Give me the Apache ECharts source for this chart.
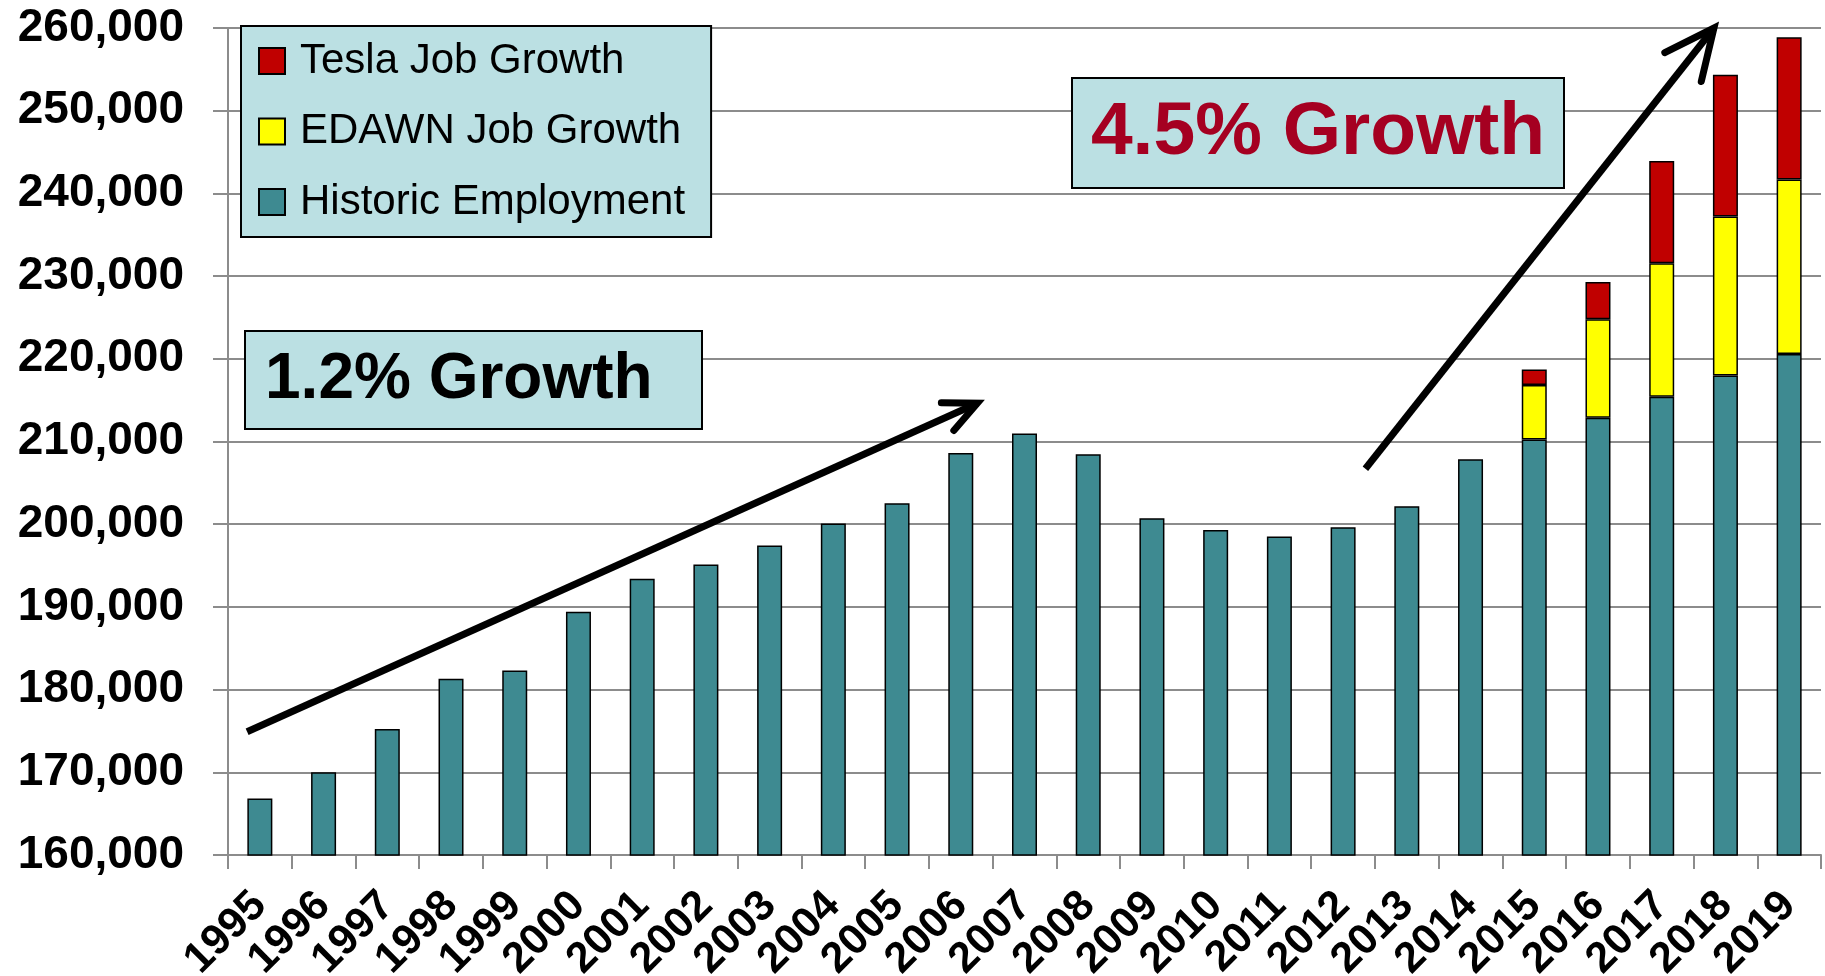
<!DOCTYPE html>
<html>
<head>
<meta charset="utf-8">
<title>Employment Growth</title>
<script src="https://cdn.jsdelivr.net/npm/echarts@6.0.0/dist/echarts.min.js"></script>
<style>
  html, body { margin: 0; padding: 0; background: #ffffff; }
  #main-chart { width: 1825px; height: 976px; }
</style>
</head>
<body>
<div id="main-chart"></div>
<script>
// data
var years = ['1995', '1996', '1997', '1998', '1999', '2000', '2001', '2002', '2003', '2004',
  '2005', '2006', '2007', '2008', '2009', '2010', '2011', '2012', '2013', '2014',
  '2015', '2016', '2017', '2018', '2019'];

var historic = [166820, 170000, 175250, 181300, 182300, 189400, 193390, 195120, 197420, 200080,
  202540, 208620, 210960, 208460, 200730, 199310, 198500, 199640, 202180, 207860,
  210250, 212880, 215420, 217990, 220580];

var edawn = [null, null, null, null, null, null, null, null, null, null,
  null, null, null, null, null, null, null, null, null, null,
  6570, 11890, 16120, 19230, 21110];

var tesla = [null, null, null, null, null, null, null, null, null, null,
  null, null, null, null, null, null, null, null, null, null,
  1890, 4520, 12380, 17130, 17180];

var yTicks = [160000, 260000, 10000]; // min, max, step

// annotation arrows in data space: [categoryIndex, value]
var arrowSlow = [[-0.2, 174900], [11.26, 214630]];
var arrowFast = [[17.35, 206700], [22.82, 260000]];

var FONT = "'Liberation Sans', Arial, Helvetica, sans-serif";

var myChart = echarts.init(document.getElementById('main-chart'));

var barBorder = { borderColor: '#000000', borderWidth: 1.5 };

var option = {
  backgroundColor: '#ffffff',
  animation: false,
  textStyle: { fontFamily: FONT },
  grid: { left: 228, right: 4, top: 28, bottom: 121, containLabel: false, outerBoundsMode: 'none' },
  legend: {
    data: ['Tesla Job Growth', 'EDAWN Job Growth', 'Historic Employment'],
    orient: 'vertical',
    left: 241,
    top: 26,
    padding: [14, 26, 14, 17],
    itemGap: 28.5,
    itemWidth: 26,
    itemHeight: 26,
    icon: 'rect',
    backgroundColor: '#BBE0E3',
    borderColor: '#000000',
    borderWidth: 2,
    selectedMode: false,
    textStyle: {
      fontFamily: FONT,
      fontSize: 42,
      lineHeight: 42,
      color: '#000000',
      padding: [0, 0, 0, 10]
    }
  },
  xAxis: {
    type: 'category',
    data: years,
    axisLine: { lineStyle: { color: '#8c8c8c', width: 2 } },
    axisTick: { show: true, length: 14, lineStyle: { color: '#8c8c8c', width: 2 } },
    axisLabel: {
      rotate: 45,
      margin: 44,
      fontFamily: FONT,
      fontSize: 43,
      fontWeight: 'bold',
      color: '#000000',
      interval: 0
    },
    splitLine: { show: false }
  },
  yAxis: {
    type: 'value',
    min: yTicks[0],
    max: yTicks[1],
    interval: yTicks[2],
    axisLine: { show: true, lineStyle: { color: '#8c8c8c', width: 2 } },
    axisTick: { show: true, length: 15, lineStyle: { color: '#8c8c8c', width: 2 } },
    splitLine: { show: true, lineStyle: { color: '#8c8c8c', width: 2 } },
    axisLabel: {
      margin: 44,
      fontFamily: FONT,
      fontSize: 46,
      fontWeight: 'bold',
      color: '#000000',
      formatter: function (v) { return v.toLocaleString('en-US'); }
    }
  },
  series: [
    {
      name: 'Historic Employment',
      type: 'bar',
      stack: 'jobs',
      barWidth: 25,
      itemStyle: Object.assign({ color: '#3E8A91' }, barBorder),
      data: historic
    },
    {
      name: 'EDAWN Job Growth',
      type: 'bar',
      stack: 'jobs',
      barWidth: 25,
      itemStyle: Object.assign({ color: '#FFFF00' }, barBorder),
      data: edawn
    },
    {
      name: 'Tesla Job Growth',
      type: 'bar',
      stack: 'jobs',
      barWidth: 25,
      itemStyle: Object.assign({ color: '#C00000' }, barBorder),
      data: tesla
    }
  ]
};

myChart.setOption(option);

// map a (fractional) category index and a value to pixels
function toPx(pt) {
  var x0 = myChart.convertToPixel({ xAxisIndex: 0 }, years[0]);
  var x1 = myChart.convertToPixel({ xAxisIndex: 0 }, years[1]);
  var y = myChart.convertToPixel({ yAxisIndex: 0 }, pt[1]);
  return [x0 + pt[0] * (x1 - x0), y];
}

function arrow(pts, headLen) {
  var a = toPx(pts[0]);
  var b = toPx(pts[1]);
  var ang = Math.atan2(b[1] - a[1], b[0] - a[0]);
  var spread = 25 * Math.PI / 180;
  var p1 = [b[0] - headLen * Math.cos(ang - spread), b[1] - headLen * Math.sin(ang - spread)];
  var p2 = [b[0] - headLen * Math.cos(ang + spread), b[1] - headLen * Math.sin(ang + spread)];
  return [
    {
      type: 'line', z: 100,
      shape: { x1: a[0], y1: a[1], x2: b[0], y2: b[1] },
      style: { stroke: '#000000', lineWidth: 7, lineCap: 'butt' }
    },
    {
      type: 'polyline', z: 100,
      shape: { points: [p1, b, p2] },
      style: { stroke: '#000000', fill: null, lineWidth: 7, lineCap: 'round', lineJoin: 'miter' }
    }
  ];
}

function noteBox(x, y, w, h, text, color, size, align, inset) {
  return {
    type: 'group', z: 90,
    children: [
      {
        type: 'rect',
        shape: { x: x, y: y, width: w, height: h },
        style: { fill: '#BBE0E3', stroke: '#000000', lineWidth: 2 }
      },
      {
        type: 'text',
        x: align === 'left' ? x + inset : x + w / 2,
        y: y + h / 2,
        style: {
          text: text,
          fill: color,
          font: 'bold ' + size + 'px ' + FONT,
          align: align,
          verticalAlign: 'middle'
        }
      }
    ]
  };
}

var graphics = []
  .concat(arrow(arrowSlow, 36))
  .concat(arrow(arrowFast, 55));
graphics.push(noteBox(245, 331, 457, 98, '1.2% Growth', '#000000', 64, 'left', 20));
graphics.push(noteBox(1072, 78, 492, 110, '4.5% Growth', '#A50021', 75, 'center', 0));

myChart.setOption({ graphic: graphics });

window.onresize = function () {
  myChart.resize();
};
</script>
</body>
</html>
